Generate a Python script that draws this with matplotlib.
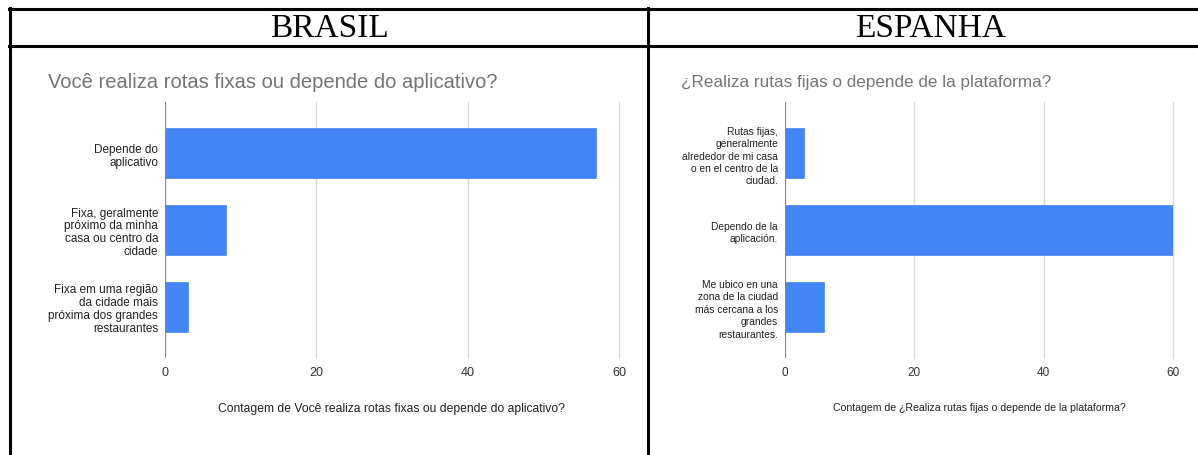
import matplotlib.pyplot as plt
from matplotlib.lines import Line2D

# dados
br_categorias = ["Depende do\naplicativo",
                 "Fixa, geralmente\npróximo da minha\ncasa ou centro da\ncidade",
                 "Fixa em uma região\nda cidade mais\npróxima dos grandes\nrestaurantes"]
br_valores = [57, 8, 3]

es_categorias = ["Rutas fijas,\ngeneralmente\nalrededor de mi casa\no en el centro de la\nciudad.",
                 "Dependo de la\naplicación.",
                 "Me ubico en una\nzona de la ciudad\nmás cercana a los\ngrandes\nrestaurantes."]
es_valores = [3, 60, 6]

x_ticks = [0, 20, 40, 60]

W, H = 1198, 456
fig = plt.figure(figsize=(W / 100, H / 100), dpi=100)
plt.rcParams['font.family'] = ['Liberation Sans', 'DejaVu Sans']


def fx(px):
    return px / W


def fy(py):
    return 1 - py / H


# linhas da tabela
lw = 2.2
for (x0, y0, x1, y1) in [(9, 10, 1198, 10), (9, 47, 1198, 47),
                         (10, 9, 10, 456), (648, 9, 648, 456)]:
    fig.add_artist(Line2D([fx(x0), fx(x1)], [fy(y0), fy(y1)], color='black', lw=lw))

fig.text(fx(329), fy(29), "BRASIL", ha='center', va='center',
         family='Liberation Serif', fontsize=24)
fig.text(fx(930), fy(29), "ESPANHA", ha='center', va='center',
         family='Liberation Serif', fontsize=24)


def painel(left, right, cats, vals, titulo, xlabel, title_x, title_size,
           tick_size, lab_size, xlab_size, lsp):
    ax = fig.add_axes([fx(left), fy(359), fx(right - left), (359 - 103) / H])
    pos = range(len(cats))
    ax.barh(pos, vals, height=0.65, color='#4285F4', edgecolor='#4285F4', lw=0.5)
    ax.set_xlim(0, 60)
    ax.set_ylim(2.67, -0.67)
    ax.set_xticks(x_ticks)
    ax.set_xticklabels([str(t) for t in x_ticks], fontsize=tick_size, color='#333333')
    ax.set_yticks(list(pos))
    ax.set_yticklabels(cats, fontsize=lab_size, color='#222222', linespacing=lsp)
    ax.tick_params(length=0)
    ax.tick_params(axis='x', pad=6)
    ax.tick_params(axis='y', pad=5)
    for s in ax.spines.values():
        s.set_visible(False)
    for t in x_ticks[1:]:
        ax.axvline(t, color='#d9d9d9', lw=1, zorder=0, clip_on=False)
    ax.axvline(0, color='#888888', lw=1.6, zorder=3)
    ax.set_xlabel(xlabel, fontsize=xlab_size, color='#222222', labelpad=17)
    fig.text(fx(title_x), fy(83), titulo, ha='left', va='center',
             fontsize=title_size, color='#757575')
    return ax


painel(165, 619, br_categorias, br_valores,
       "Você realiza rotas fixas ou depende do aplicativo?",
       "Contagem de Você realiza rotas fixas ou depende do aplicativo?", 48,
       14.5, 9, 8.5, 8.7, 1.1)
painel(785, 1173, es_categorias, es_valores,
       "¿Realiza rutas fijas o depende de la plataforma?",
       "Contagem de ¿Realiza rutas fijas o depende de la plataforma?", 681,
       12.3, 8.5, 7.4, 7.55, 1.3)

fig.savefig("out.png", dpi=100)
